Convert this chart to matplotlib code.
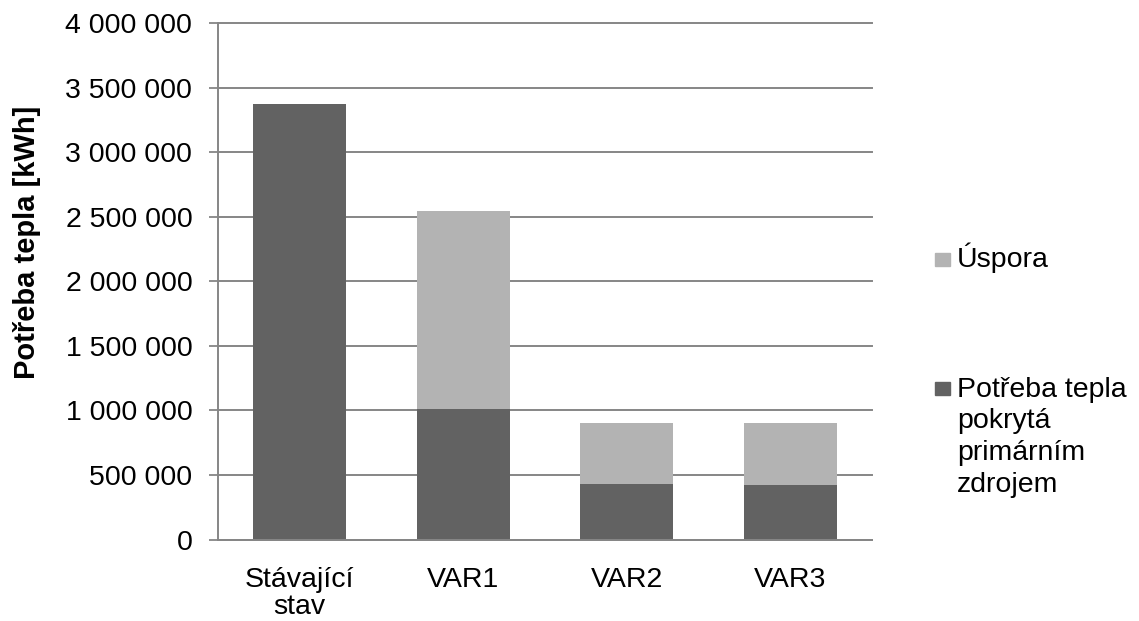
import matplotlib
matplotlib.use("Agg")
import matplotlib.pyplot as plt
from matplotlib.patches import Rectangle
from matplotlib.ticker import FuncFormatter

plt.rcParams['font.family'] = ['Liberation Sans', 'DejaVu Sans']

# Data
categories = ["Stávající\nstav", "VAR1", "VAR2", "VAR3"]
primary = [3375000, 1010000, 430000, 422000]      # Potřeba tepla pokrytá primárním zdrojem
savings = [0, 1538000, 475000, 478000]            # Úspora
legend_labels = ["Úspora", "Potřeba tepla\npokrytá\nprimárním\nzdrojem"]
y_label = "Potřeba tepla [kWh]"
y_ticks = [0, 500000, 1000000, 1500000, 2000000, 2500000, 3000000, 3500000, 4000000]

DARK = "#626262"
LIGHT = "#b3b3b3"
GRID = "#868686"
FS = 20.5

W, H = 1139, 621
fig = plt.figure(figsize=(W / 100, H / 100), dpi=100)
ax = fig.add_axes([218 / W, 1 - 539.5 / H, (872 - 218) / W, (539.5 - 23.3) / H])

x = list(range(len(categories)))
ax.bar(x, primary, width=0.57, color=DARK, zorder=3)
ax.bar(x, savings, width=0.57, bottom=primary, color=LIGHT, zorder=3)

ax.set_xlim(-0.5, len(categories) - 0.5)
ax.set_ylim(0, 4000000)
ax.set_yticks(y_ticks)
ax.yaxis.set_major_formatter(FuncFormatter(lambda v, p: f"{int(v):,}".replace(",", " ")))
ax.set_xticks(x)
ax.set_xticklabels(categories, fontsize=FS, linespacing=1.02)
ax.tick_params(axis='x', length=0, pad=20)
ax.tick_params(axis='y', length=6.5, width=1.3, color=GRID, pad=12, labelsize=FS)

ax.grid(axis='y', color=GRID, linewidth=1.4, zorder=0)
for ln in ax.get_ygridlines():
    ln.set_clip_on(False)
for s in ['top', 'right']:
    ax.spines[s].set_visible(False)
for s in ['left', 'bottom']:
    ax.spines[s].set_color(GRID)
    ax.spines[s].set_linewidth(1.4)
    ax.spines[s].set_zorder(4)

# Y-axis title
fig.text(27.5 / W, 1 - 242 / H, y_label, rotation=90, fontsize=FS + 0.5, fontweight='bold',
         ha='center', va='center')

# Legend, drawn in figure pixel space
def fx(px):
    return px / W

def fy(py):
    return 1 - py / H

entries = [(LIGHT, 253.3, [(legend_labels[0], 266.7)])]
lines2 = legend_labels[1].split("\n")
entries.append((DARK, 381.7, [(t, 396.7 + i * 31.7) for i, t in enumerate(lines2)]))
for color, top, texts in entries:
    fig.patches.append(Rectangle((fx(935), fy(top + 13)), 15 / W, 13 / H,
                                 transform=fig.transFigure, color=color))
    for t, base in texts:
        fig.text(fx(957), fy(base), t, fontsize=FS, ha='left', va='baseline')

fig.savefig("out.png", dpi=100)
